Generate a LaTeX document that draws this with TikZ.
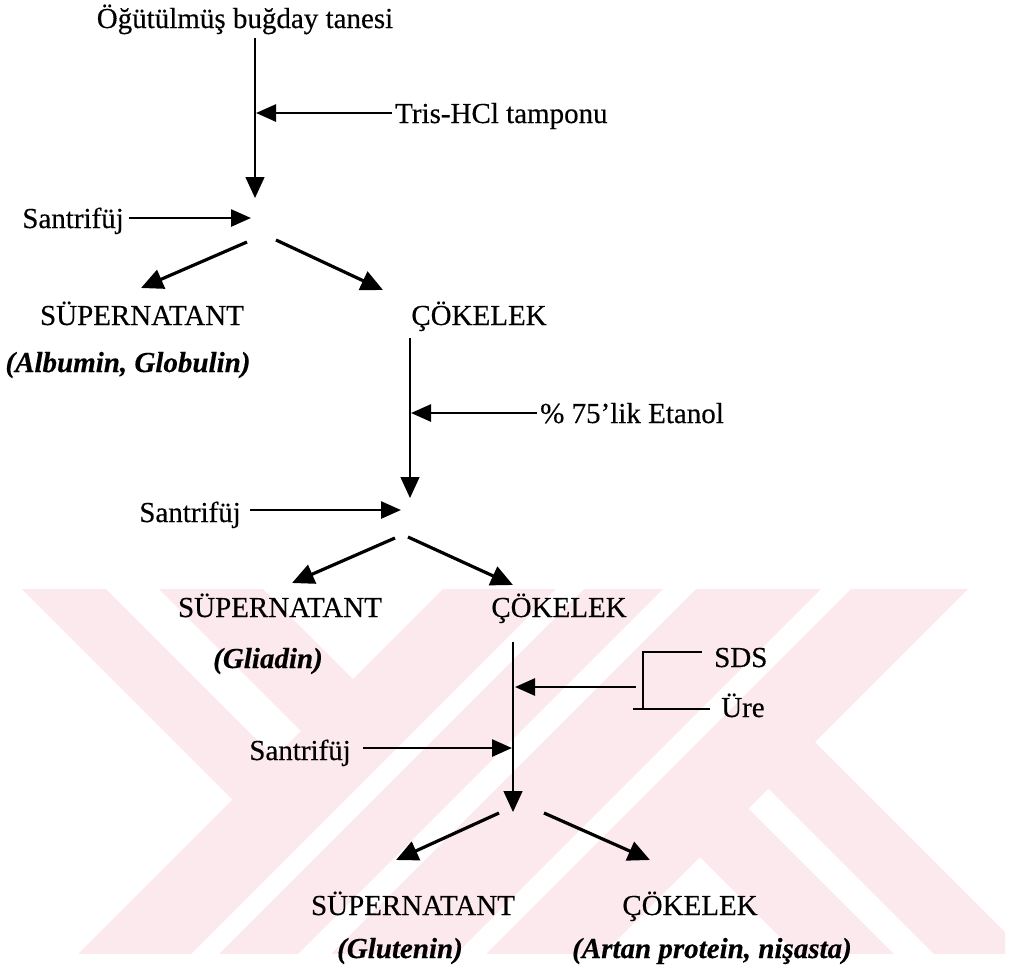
\documentclass[tikz,border=0pt]{standalone}
\usepackage{fontspec}
\setmainfont{Liberation Serif}[FakeBold=0.35]
\usetikzlibrary{arrows.meta}
\definecolor{wm}{RGB}{252,233,237}
\begin{document}
\begin{tikzpicture}[x=1pt,y=-1pt,
  lbl/.style={font=\fontsize{29}{35}\selectfont, inner sep=0pt, anchor=base},
  lbli/.style={font=\fontsize{29}{35}\selectfont\bfseries\itshape, inner sep=0pt, anchor=base},
  flow/.style={line width=1.4pt, -{Triangle[length=21pt,width=19pt]}},
  feed/.style={line width=2.6pt, -{Triangle[length=20pt,width=17pt]}},
  split/.style={line width=3.2pt, -{Triangle[length=22pt,width=20pt]}},
]
\useasboundingbox (0,0) rectangle (1020,978);
% watermark
\begin{scope}
\clip (20,589) rectangle (1005,953);
\fill[wm] (452,580)--(565,580)--(185,960)--(72,960)--cycle;
\fill[wm] (593,580)--(672,580)--(292,960)--(213,960)--cycle;
\fill[wm] (705,580)--(830,580)--(450,960)--(325,960)--cycle;
\fill[wm] (860,580)--(977,580)--(597,960)--(480,960)--cycle;
\fill[wm] (13,580)--(97,580)--(278.5,761.5)--(236.5,803.5)--cycle;
\fill[wm] (150,580)--(254,580)--(357,683)--(305,735)--cycle;
\fill[wm] (696.5,853.5)--(745,805)--(900,960)--(803,960)--cycle;
\fill[wm] (765,785)--(811.5,738.5)--(1033,960)--(940,960)--cycle;
\end{scope}
% block 1
\node[lbl] (title) at (245,28) {Öğütülmüş buğday tanesi};
\coordinate (v1top) at (255,38);
\coordinate (v1end) at (255,198);
\draw[flow] (v1top) -- (v1end);
\node[lbl, anchor=base west] (tris) at (395,123) {Tris-HCl tamponu};
\coordinate (tris0) at (392,113);
\coordinate (tris1) at (256,113);
\draw[feed] (tris0) -- (tris1);
\node[lbl, anchor=base east] (s1) at (124,228) {Santrifüj};
\coordinate (s1a) at (129,218);
\coordinate (s1b) at (251,218);
\draw[feed] (s1a) -- (s1b);
\coordinate (sp1l0) at (247,242);
\coordinate (sp1l1) at (141,288);
\coordinate (sp1r0) at (276,240);
\coordinate (sp1r1) at (383,290);
\draw[split] (sp1l0) -- (sp1l1);
\draw[split] (sp1r0) -- (sp1r1);
\node[lbl] (sup1) at (142,325) {SÜPERNATANT};
\node[lbl] (cok1) at (479,325) {ÇÖKELEK};
\node[lbli] (alb) at (128,372) {(Albumin, Globulin)};
% block 2
\coordinate (v2top) at (410,338);
\coordinate (v2end) at (410,498);
\draw[flow] (v2top) -- (v2end);
\node[lbl, anchor=base west] (eta) at (540,423) {\%~75’lik Etanol};
\coordinate (eta0) at (537,413);
\coordinate (eta1) at (411,413);
\draw[feed] (eta0) -- (eta1);
\node[lbl, anchor=base east] (s2) at (241,522) {Santrifüj};
\coordinate (s2a) at (250,510);
\coordinate (s2b) at (401,510);
\draw[feed] (s2a) -- (s2b);
\coordinate (sp2l0) at (395,538);
\coordinate (sp2l1) at (292,583);
\coordinate (sp2r0) at (408,537);
\coordinate (sp2r1) at (513,585);
\draw[split] (sp2l0) -- (sp2l1);
\draw[split] (sp2r0) -- (sp2r1);
\node[lbl] (sup2) at (280,617) {SÜPERNATANT};
\node[lbl] (cok2) at (559,617) {ÇÖKELEK};
\node[lbli] (gli) at (268,668) {(Gliadin)};
% block 3
\coordinate (v3top) at (513,642);
\coordinate (v3end) at (513,812);
\draw[flow] (v3top) -- (v3end);
\node[lbl, anchor=base west] (sds) at (714,667) {SDS};
\node[lbl, anchor=base west] (ure) at (721,717) {Üre};
\coordinate (bt0) at (643,652);
\coordinate (bt1) at (702,652);
\coordinate (bb0) at (633,709);
\coordinate (bb1) at (710,709);
\coordinate (bv1) at (643,709);
\draw[line width=1.8pt] (bt1) -- (bt0) -- (bv1);
\draw[line width=1.8pt] (bb0) -- (bb1);
\coordinate (bf0) at (636,687);
\coordinate (bf1) at (515,687);
\draw[feed] (bf0) -- (bf1);
\node[lbl, anchor=base east] (s3) at (351,760) {Santrifüj};
\coordinate (s3a) at (363,748);
\coordinate (s3b) at (512,748);
\draw[feed] (s3a) -- (s3b);
\coordinate (sp3l0) at (499,813);
\coordinate (sp3l1) at (396,860);
\coordinate (sp3r0) at (544,813);
\coordinate (sp3r1) at (650,860);
\draw[split] (sp3l0) -- (sp3l1);
\draw[split] (sp3r0) -- (sp3r1);
\node[lbl] (sup3) at (413,915) {SÜPERNATANT};
\node[lbl] (cok3) at (690,915) {ÇÖKELEK};
\node[lbli] (glu) at (400,958) {(Glutenin)};
\node[lbli] (art) at (712,958) {(Artan protein, nişasta)};
\end{tikzpicture}
\end{document}
